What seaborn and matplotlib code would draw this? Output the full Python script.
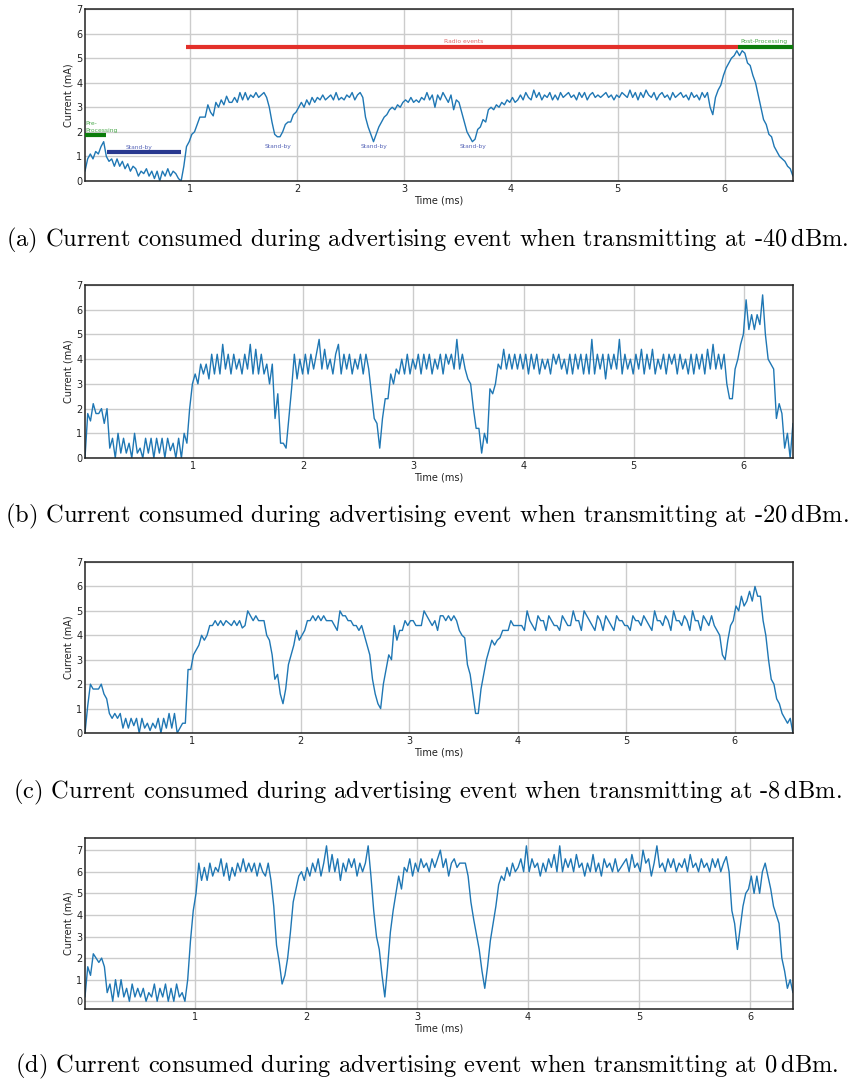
import numpy as np
import pandas as pd
import matplotlib
matplotlib.use("Agg")
import matplotlib.pyplot as plt
import seaborn as sns

# ── DATA ─────────────────────────────────────────────────────────────────────
SAMPLE_MS = 0.025          # sampling interval of the current traces (ms)

# -40 dBm trace, first sample at 0.015 ms
T0_M40 = 0.015
CUR_M40 = [
    0.4, 0.9, 1.1, 0.9,  1.2, 1.1, 1.4, 1.6,  1.0, 0.8, 0.9, 0.6,  0.9, 0.6, 0.8, 0.5,
    0.7, 0.4, 0.6, 0.5,  0.2, 0.4, 0.3, 0.5,  0.2, 0.4, 0.1, 0.4,  0.0, 0.4, 0.2, 0.5,
    0.2, 0.4, 0.3, 0.1,  0.0, 0.6, 1.4, 1.6,  1.9, 2.0, 2.3, 2.6,  2.6, 2.6, 3.1, 2.8,
    2.65, 3.2, 3.0, 3.3, 3.1, 3.45, 3.2, 3.2, 3.4, 3.2, 3.6, 3.3,  3.6, 3.3, 3.5, 3.4,
    3.6, 3.4, 3.5, 3.6,  3.4, 3.0, 2.4, 1.9,  1.8, 1.8, 2.0, 2.3,  2.4, 2.4, 2.7, 2.8,
    3.0, 3.2, 3.0, 3.3,  3.1, 3.4, 3.2, 3.4,  3.3, 3.5, 3.3, 3.4,  3.5, 3.3, 3.6, 3.3,
    3.4, 3.3, 3.5, 3.4,  3.6, 3.3, 3.5, 3.6,  3.4, 2.6, 2.2, 1.9,  1.6, 1.9, 2.2, 2.4,
    2.6, 2.7, 2.9, 3.0,  2.9, 3.1, 3.0, 3.2,  3.3, 3.2, 3.4, 3.2,  3.3, 3.2, 3.4, 3.3,
    3.6, 3.3, 3.5, 3.0,  3.5, 3.3, 3.6, 3.4,  3.2, 3.5, 2.9, 3.3,  3.2, 2.8, 2.4, 2.0,
    1.8, 1.6, 1.7, 2.1,  2.2, 2.5, 2.4, 2.9,  3.0, 2.9, 3.1, 3.0,  3.2, 3.1, 3.3, 3.2,
    3.4, 3.2, 3.3, 3.5,  3.3, 3.6, 3.4, 3.3,  3.7, 3.4, 3.6, 3.3,  3.5, 3.4, 3.6, 3.3,
    3.5, 3.3, 3.6, 3.4,  3.5, 3.6, 3.4, 3.5,  3.3, 3.6, 3.4, 3.6,  3.3, 3.5, 3.6, 3.4,
    3.5, 3.4, 3.5, 3.6,  3.4, 3.5, 3.3, 3.5,  3.4, 3.6, 3.5, 3.4,  3.7, 3.4, 3.6, 3.3,
    3.6, 3.4, 3.7, 3.5,  3.4, 3.6, 3.3, 3.5,  3.6, 3.4, 3.5, 3.3,  3.6, 3.4, 3.5, 3.6,
    3.4, 3.5, 3.3, 3.6,  3.4, 3.5, 3.3, 3.6,  3.4, 3.6, 3.0, 2.7,  3.4, 3.7, 3.9, 4.3,
    4.6, 4.8, 5.0, 5.1,  5.3, 5.1, 5.3, 5.2,  4.8, 4.7, 4.3, 4.0,  3.5, 3.0, 2.5, 2.3,
    1.9, 1.8, 1.4, 1.2,  1.0, 0.9, 0.8, 0.6,  0.5, 0.2,
]

# -20 dBm trace, first sample at 0.02 ms
T0_M20 = 0.02
CUR_M20 = [
    0.0, 1.8, 1.5, 2.2,  1.8, 1.8, 2.0, 1.4,  2.0, 0.4, 0.8, 0.0,  1.0, 0.2, 0.8, 0.2,
    0.6, 0.0, 1.0, 0.2,  0.4, 0.0, 0.8, 0.2,  0.8, 0.0, 0.8, 0.2,  0.8, 0.0, 0.8, 0.3,
    0.6, 0.0, 0.8, 0.0,  1.0, 0.6, 2.0, 3.0,  3.4, 3.0, 3.8, 3.4,  3.8, 3.2, 4.2, 3.4,
    4.2, 3.4, 4.6, 3.6,  4.2, 3.4, 4.2, 3.6,  4.0, 3.4, 4.2, 3.6,  4.6, 3.4, 4.4, 3.4,
    4.2, 3.4, 3.8, 3.0,  3.8, 1.6, 2.6, 0.6,  0.6, 0.4, 1.6, 2.8,  4.2, 3.2, 4.0, 3.4,
    4.2, 3.4, 4.2, 3.6,  4.2, 4.8, 3.6, 4.4,  3.6, 4.0, 3.4, 4.2,  4.6, 3.4, 4.2, 3.6,
    4.2, 3.4, 4.0, 3.6,  4.2, 3.4, 4.2, 3.6,  2.6, 1.6, 1.4, 0.4,  1.6, 2.4, 2.4, 3.4,
    3.0, 3.6, 3.4, 4.0,  3.4, 4.2, 3.4, 4.0,  3.6, 4.2, 3.4, 4.2,  3.6, 4.2, 3.4, 4.0,
    3.6, 4.2, 3.4, 4.2,  3.8, 4.2, 3.6, 4.8,  3.6, 4.2, 3.6, 3.2,  3.0, 2.0, 1.2, 1.2,
    0.2, 1.0, 0.6, 2.8,  2.6, 3.0, 3.8, 3.6,  4.4, 3.6, 4.2, 3.6,  4.2, 3.6, 4.2, 3.6,
    4.2, 3.4, 4.2, 3.6,  4.2, 3.4, 4.0, 3.6,  4.0, 3.4, 4.2, 3.8,  4.2, 3.6, 4.0, 3.4,
    4.2, 3.4, 4.2, 3.6,  4.2, 3.4, 4.2, 3.4,  4.8, 3.4, 4.2, 3.6,  4.2, 3.2, 4.2, 3.6,
    4.2, 3.6, 4.8, 3.4,  4.2, 3.6, 4.0, 3.4,  4.2, 3.6, 4.4, 3.4,  4.2, 3.6, 4.4, 3.4,
    4.0, 3.6, 4.2, 3.4,  4.2, 3.8, 4.2, 3.4,  4.2, 3.6, 4.0, 3.4,  4.2, 3.4, 4.2, 3.6,
    4.2, 3.4, 4.4, 3.6,  4.6, 3.6, 4.2, 3.6,  4.2, 3.0, 2.4, 2.4,  3.6, 4.0, 4.6, 5.0,
    6.4, 5.2, 5.8, 5.2,  5.8, 5.4, 6.6, 5.0,  4.0, 3.8, 3.6, 1.6,  2.2, 1.8, 0.4, 1.0,
    0.0, 1.4,
]

# -8 dBm trace, first sample at 0.012 ms
T0_M8 = 0.012
CUR_M8 = [
    0.0, 1.1, 2.0, 1.8,  1.8, 1.8, 2.0, 1.6,  1.4, 0.8, 0.6, 0.8,  0.6, 0.8, 0.2, 0.6,
    0.2, 0.6, 0.3, 0.6,  0.0, 0.6, 0.2, 0.4,  0.1, 0.4, 0.2, 0.6,  0.0, 0.6, 0.2, 0.8,
    0.2, 0.8, 0.0, 0.2,  0.4, 0.4, 2.6, 2.6,  3.2, 3.4, 3.6, 4.0,  3.8, 4.0, 4.4, 4.4,
    4.6, 4.4, 4.6, 4.4,  4.6, 4.5, 4.4, 4.6,  4.4, 4.6, 4.3, 4.4,  5.0, 4.8, 4.6, 4.8,
    4.6, 4.6, 4.6, 4.0,  3.8, 3.2, 2.2, 2.4,  1.6, 1.2, 1.8, 2.8,  3.2, 3.6, 4.2, 3.8,
    4.0, 4.2, 4.6, 4.6,  4.8, 4.6, 4.8, 4.6,  4.8, 4.6, 4.6, 4.6,  4.4, 4.2, 5.0, 4.8,
    4.8, 4.6, 4.6, 4.4,  4.4, 4.2, 4.4, 4.0,  3.6, 3.2, 2.2, 1.6,  1.2, 1.0, 2.0, 2.6,
    3.2, 3.0, 4.4, 3.8,  4.2, 4.2, 4.6, 4.4,  4.6, 4.6, 4.4, 4.4,  4.4, 5.0, 4.8, 4.6,
    4.4, 4.6, 4.2, 4.8,  4.8, 4.6, 4.8, 4.6,  4.8, 4.6, 4.2, 4.0,  3.9, 2.8, 2.4, 1.6,
    0.8, 0.8, 1.8, 2.4,  3.0, 3.4, 3.8, 3.6,  3.8, 3.9, 4.2, 4.2,  4.2, 4.6, 4.4, 4.4,
    4.4, 4.4, 4.2, 5.0,  4.6, 4.4, 4.2, 4.8,  4.6, 4.6, 4.2, 4.8,  4.6, 4.4, 4.4, 4.2,
    4.8, 4.6, 4.4, 4.4,  5.0, 4.6, 4.6, 4.2,  5.0, 4.8, 4.6, 4.4,  4.2, 4.8, 4.6, 4.2,
    4.8, 4.6, 4.4, 4.2,  4.8, 4.6, 4.6, 4.4,  4.4, 4.2, 4.8, 4.6,  4.6, 4.4, 4.8, 4.6,
    4.4, 4.2, 5.0, 4.6,  4.6, 4.4, 4.8, 4.6,  4.2, 5.0, 4.6, 4.6,  4.4, 4.8, 4.6, 4.2,
    5.0, 4.6, 4.6, 4.2,  4.8, 4.6, 4.4, 4.8,  4.4, 4.2, 4.0, 3.2,  3.0, 3.8, 4.4, 4.6,
    5.2, 5.0, 5.6, 5.2,  5.4, 5.8, 5.4, 6.0,  5.6, 5.6, 4.6, 4.0,  3.0, 2.2, 2.0, 1.4,
    1.2, 0.8, 0.6, 0.4,  0.6, 0.0,
]

# 0 dBm trace, first sample at 0.01 ms
T0_0 = 0.01
CUR_0 = [
    0.2, 1.6, 1.2, 2.2,  2.0, 1.8, 2.0, 1.6,  0.4, 0.8, 0.0, 1.0,  0.2, 1.0, 0.2, 0.6,
    0.0, 0.8, 0.2, 0.6,  0.2, 0.6, 0.0, 0.4,  0.2, 0.8, 0.0, 0.6,  0.2, 0.8, 0.0, 0.6,
    0.0, 0.8, 0.2, 0.4,  0.0, 1.0, 2.8, 4.2,  5.0, 6.4, 5.6, 6.2,  5.6, 6.4, 5.8, 6.2,
    6.0, 6.6, 5.8, 6.4,  5.6, 6.2, 5.8, 6.4,  6.0, 6.6, 6.0, 6.4,  6.0, 6.4, 5.8, 6.4,
    6.0, 5.8, 6.4, 5.6,  4.4, 2.6, 1.8, 0.8,  1.2, 2.0, 3.2, 4.6,  5.2, 5.8, 6.0, 5.6,
    6.2, 5.8, 6.4, 6.0,  6.6, 5.8, 6.4, 7.2,  6.0, 6.8, 6.0, 6.6,  5.6, 6.4, 6.0, 6.6,
    6.2, 6.6, 5.8, 6.4,  6.0, 6.4, 7.2, 5.8,  4.2, 3.0, 2.4, 1.2,  0.2, 1.6, 3.2, 4.2,
    5.0, 5.8, 5.2, 6.2,  6.0, 6.6, 5.8, 6.4,  6.0, 6.6, 6.2, 6.4,  6.0, 6.6, 6.2, 6.6,
    7.0, 6.2, 6.6, 5.8,  6.4, 6.6, 6.2, 6.4,  6.4, 6.4, 5.8, 4.6,  3.8, 3.1, 2.4, 1.4,
    0.6, 1.6, 2.8, 3.6,  4.4, 5.4, 5.8, 5.6,  6.2, 5.8, 6.4, 6.0,  6.2, 6.6, 6.0, 7.2,
    6.0, 6.6, 6.2, 6.4,  5.8, 6.4, 6.0, 6.6,  6.2, 6.8, 6.0, 7.2,  6.0, 6.6, 6.2, 6.6,
    6.0, 6.8, 6.2, 6.4,  5.8, 6.4, 6.0, 6.8,  6.0, 6.4, 5.8, 6.6,  6.2, 6.4, 6.0, 6.6,
    6.0, 6.2, 6.4, 6.6,  6.0, 6.8, 6.2, 6.4,  6.0, 7.0, 6.4, 6.6,  5.8, 6.4, 7.2, 6.2,
    6.4, 6.0, 6.6, 6.2,  6.6, 6.0, 6.4, 6.2,  6.6, 6.0, 6.8, 6.2,  6.4, 6.0, 6.6, 6.2,
    6.4, 6.0, 6.6, 6.2,  6.6, 6.0, 6.4, 6.7,  6.0, 4.2, 3.6, 2.4,  3.4, 4.4, 5.0, 5.2,
    5.8, 5.0, 5.8, 5.0,  6.0, 6.4, 5.8, 5.2,  4.4, 4.0, 3.6, 2.0,  1.4, 0.6, 1.0, 0.4,
]

CAPTIONS = [
    r"(a) Current consumed during advertising event when transmitting at -40$\,$dBm.",
    r"(b) Current consumed during advertising event when transmitting at -20$\,$dBm.",
    r"(c) Current consumed during advertising event when transmitting at -8$\,$dBm.",
    r"(d) Current consumed during advertising event when transmitting at 0$\,$dBm.",
]

# phases marked on the -40 dBm panel
PHASE_NAMES = ["Pre-\nProcessing", "Stand-by", "Radio events", "Post-Processing"]
PHASE_START = [0.015, 0.22, 0.96, 6.13]
PHASE_END = [0.21, 0.915, 6.13, 6.64]
PHASE_LEVEL = [1.87, 1.18, 5.47, 5.47]
STANDBY_DIPS = [1.82, 2.72, 3.65]

# ── STYLE ────────────────────────────────────────────────────────────────────
sns.set_theme(style="whitegrid")
plt.rcParams["font.family"] = ["DejaVu Sans"]
plt.rcParams["axes.edgecolor"] = "#222222"
plt.rcParams["axes.linewidth"] = 1.1
plt.rcParams["grid.color"] = "#cccccc"
plt.rcParams["grid.linewidth"] = 1.0

LINE = "#1f77b4"
GREEN, NAVY, RED = "#0b7d0b", "#28388f", "#e3302a"
TXT_GREEN, TXT_NAVY, TXT_RED = "#4aa84a", "#5866b8", "#e06a6a"

fig = plt.figure(figsize=(8.54, 10.8), dpi=100)
boxes = [
    [0.0995, 0.8324, 0.829, 0.1593],
    [0.0995, 0.5759, 0.829, 0.1602],
    [0.0995, 0.3213, 0.829, 0.1583],
    [0.0995, 0.0657, 0.829, 0.1583],
]
caption_y = [1 - 240 / 1080, 1 - 516 / 1080, 1 - 792 / 1080, 1 - 1066 / 1080]
traces = [(T0_M40, CUR_M40), (T0_M20, CUR_M20), (T0_M8, CUR_M8), (T0_0, CUR_0)]

for i, (t0, cur) in enumerate(traces):
    ax = fig.add_axes(boxes[i])
    df = pd.DataFrame({"t": t0 + SAMPLE_MS * np.arange(len(cur)), "i": cur})
    sns.lineplot(data=df, x="t", y="i", ax=ax, color=LINE, linewidth=1.0,
                 estimator=None, sort=False)
    if i < 3:
        ax.set_ylim(0, 7)
    else:
        ax.margins(x=0, y=0.05)
    ax.set_xlim(df["t"].iloc[0], df["t"].iloc[-1])
    ax.set_xticks([1, 2, 3, 4, 5, 6])
    ax.set_yticks(range(0, 8))
    ax.tick_params(labelsize=7, pad=2, length=0, labelcolor="#222222")
    ax.set_xlabel("Time (ms)", fontsize=7, labelpad=1, color="#222222")
    ax.set_ylabel("Current (mA)", fontsize=7, labelpad=2, color="#222222")
    for s in ax.spines.values():
        s.set_visible(True)

    if i == 0:
        colors = [GREEN, NAVY, RED, GREEN]
        tcolors = [TXT_GREEN, TXT_NAVY, TXT_RED, TXT_GREEN]
        for k, name in enumerate(PHASE_NAMES):
            ax.hlines(PHASE_LEVEL[k], PHASE_START[k], PHASE_END[k],
                      color=colors[k], linewidth=3, zorder=3)
        ax.text(0.02, 1.97, PHASE_NAMES[0], fontsize=4.3, color=tcolors[0],
                ha="left", va="bottom", linespacing=1.5)
        ax.text((PHASE_START[1] + PHASE_END[1]) / 2 - 0.05, PHASE_LEVEL[1] + 0.2,
                PHASE_NAMES[1], fontsize=4.3, color=tcolors[1], ha="center", va="center")
        ax.text(3.56, PHASE_LEVEL[2] + 0.2, PHASE_NAMES[2], fontsize=4.3,
                color=tcolors[2], ha="center", va="center")
        ax.text(6.37, PHASE_LEVEL[3] + 0.2, PHASE_NAMES[3], fontsize=4.3,
                color=tcolors[3], ha="center", va="center")
        for xd in STANDBY_DIPS:
            ax.text(xd, 1.42, "Stand-by", fontsize=4.3, color=tcolors[1],
                    ha="center", va="center")

    fig.text(0.5, caption_y[i], CAPTIONS[i], ha="center", va="center",
             fontsize=17.6, family="cmr10", color="black")

plt.savefig("out.png", dpi=100)
plt.close()
